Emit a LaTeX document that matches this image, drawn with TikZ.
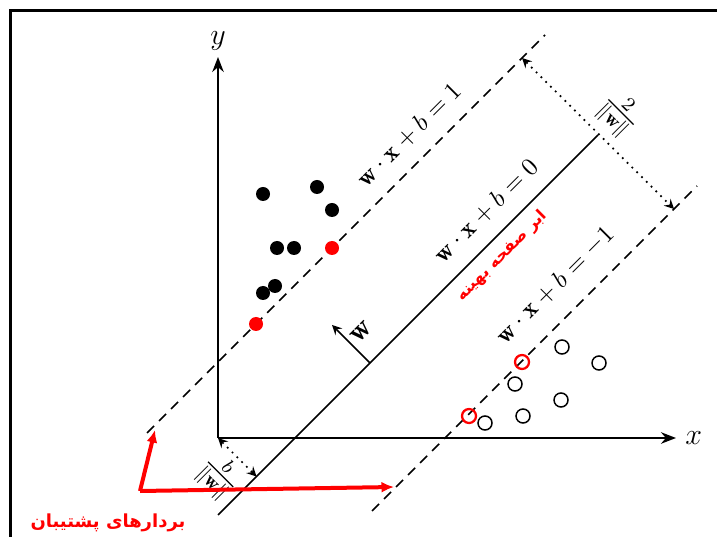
\documentclass[tikz,border=0pt]{standalone}
\usepackage{fontspec}
\usepackage{amsmath}
\usetikzlibrary{arrows.meta}
\newfontfamily\farsifont[Script=Arabic]{DejaVu Sans}
\TeXXeTstate=1
\tikzset{
  posdot/.style={circle,fill=black,inner sep=0pt,minimum size=5.6pt},
  possv/.style={circle,fill=red,inner sep=0pt,minimum size=5.6pt},
  negdot/.style={circle,draw=black,line width=0.6pt,inner sep=0pt,minimum size=5.6pt},
  negsv/.style={circle,draw=red,line width=0.9pt,inner sep=0pt,minimum size=5.6pt},
  marginline/.style={line width=0.65pt,dash pattern=on 4pt off 2.8pt},
  eqlabel/.style={rotate=45},
  axisline/.style={line width=0.8pt,-{Stealth[length=6pt,width=4.6pt]}},
  redarrow/.style={red,line width=1.6pt,-{Latex[length=5pt,width=4.4pt]}}
}
\begin{document}
\begin{tikzpicture}[x=0.4pt,y=-0.4pt]
    \useasboundingbox (0,0) rectangle (717,537);
    % frame
    \draw[line width=1.2pt] (10,537) -- (10,11) -- (717,11);
    % axes
    \coordinate (O) at (218,438);
    \coordinate (xend) at (676,438);
    \coordinate (yend) at (218,57);
    \draw[axisline] (O) -- (xend) node[right] {\large $x$};
    \draw[axisline] (O) -- (yend) node[above=-1pt] {\large $y$};
    % hyperplanes
    \coordinate (up1) at (147,433);
    \coordinate (up2) at (545,35);
    \coordinate (mid1) at (218,515);
    \coordinate (mid2) at (598,135);
    \coordinate (lo1) at (372,511);
    \coordinate (lo2) at (697,186);
    \draw[marginline] (up1) -- (up2);
    \draw[line width=0.65pt] (mid1) -- (mid2);
    \draw[marginline] (lo1) -- (lo2);
    \node[eqlabel] (equp) at (409,135) {$\mathbf{w}\cdot\mathbf{x}+b=1$};
    \node[eqlabel] (eqmid) at (486,211) {$\mathbf{w}\cdot\mathbf{x}+b=0$};
    \node[eqlabel] (eqlo) at (555,285) {$\mathbf{w}\cdot\mathbf{x}+b=-1$};
    \node[eqlabel,red,font=\farsifont\fontsize{6.4}{8}\selectfont\bfseries] (hyper) at (502,256) {\beginR ابر صفحه بهینه\endR};
    % margin and offset
    \coordinate (ma) at (522,58);
    \coordinate (mb) at (674,209);
    \draw[dotted,line width=0.7pt,stealth-stealth] (ma) -- (mb);
    \node[rotate=-45,font=\large] (marg) at (619,114) {$\frac{2}{\|\mathbf{w}\|}$};
    \coordinate (foot) at (256.5,476.5);
    \draw[dotted,line width=0.7pt,stealth-stealth] (O) -- (foot);
    \node[rotate=-45,font=\large] (offs) at (219,476) {$\frac{b}{\|\mathbf{w}\|}$};
    % normal vector
    \coordinate (wa) at (370,363);
    \coordinate (wb) at (332,325);
    \draw[line width=0.7pt,-stealth] (wa) -- (wb);
    \node[rotate=45,font=\large] (wlab) at (361,332) {$\mathbf{w}$};
    % class +1
    \foreach \px/\py [count=\i] in {263/194,317/187,332/210,277/248,294/248,275/286,263/293}
        \node[posdot] (pos\i) at (\px,\py) {};
    \node[possv] (sv1) at (332,248) {};
    \node[possv] (sv2) at (256,324) {};
    % class -1
    \foreach \px/\py [count=\i] in {562/347,599/363,515/384,561/400,523/416,485/423}
        \node[negdot] (neg\i) at (\px,\py) {};
    \node[negsv] (sv3) at (522,362) {};
    \node[negsv] (sv4) at (469,416) {};
    % support vectors
    \coordinate (corner) at (140,491);
    \coordinate (tipup) at (155,430);
    \coordinate (tipright) at (394,487);
    \draw[redarrow] (corner) -- (tipup);
    \draw[redarrow] (corner) -- (tipright);
    \node[red,font=\farsifont\fontsize{7.2}{9}\selectfont\bfseries] (svlab) at (108,523) {\beginR بردارهای پشتیبان\endR};
\end{tikzpicture}
\end{document}
